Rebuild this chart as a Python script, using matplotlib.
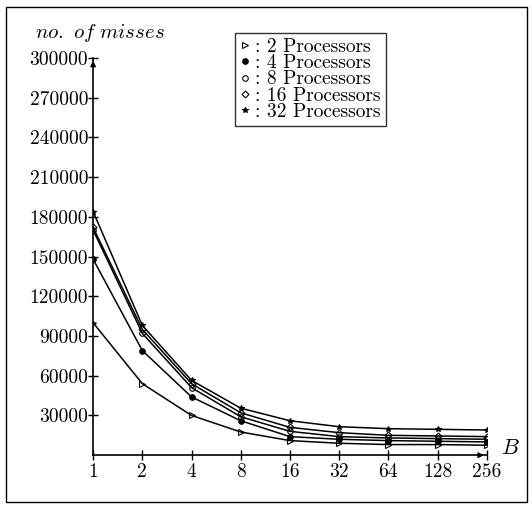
import matplotlib
matplotlib.use("Agg")
import matplotlib.pyplot as plt
from matplotlib.patches import Rectangle

plt.rcParams["font.family"] = "serif"
plt.rcParams["font.serif"] = ["cmr10"]
plt.rcParams["mathtext.fontset"] = "cm"
plt.rcParams["axes.formatter.use_mathtext"] = True

block_sizes = [1, 2, 4, 8, 16, 32, 64, 128, 256]
misses_2 = [100000, 54000, 30000, 17500, 11000, 9000, 8000, 8000, 7500]
misses_4 = [148000, 79000, 44000, 26000, 14000, 12000, 11000, 10500, 10000]
misses_8 = [170000, 92000, 51000, 29000, 18000, 14000, 13000, 12500, 12000]
misses_16 = [172000, 95000, 54000, 32000, 21000, 17000, 15000, 14500, 14000]
misses_32 = [184000, 98000, 56500, 35500, 26000, 21500, 20000, 19500, 19000]

series = [
    (misses_2, ">", "none", ": 2 Processors"),
    (misses_4, "o", "black", ": 4 Processors"),
    (misses_8, "o", "none", ": 8 Processors"),
    (misses_16, "D", "none", ": 16 Processors"),
    (misses_32, "*", "black", ": 32 Processors"),
]

y_ticks = [30000, 60000, 90000, 120000, 150000, 180000, 210000, 240000, 270000, 300000]

figure = plt.figure(figsize=(5.32, 5.08), dpi=100)
axes = figure.add_axes([0.175, 0.104, 0.74, 0.782])

positions = range(len(block_sizes))
for values, marker, face, label in series:
    axes.plot(positions, values, color="black", linewidth=1.1,
              marker=marker, markersize=4 if marker != "D" else 3.5,
              markerfacecolor=face, markeredgecolor="black",
              markeredgewidth=0.8, label=label)

axes.set_xlim(0, 8.0)
axes.set_ylim(0, 300000)
axes.set_xticks(list(positions))
axes.set_xticklabels([str(b) for b in block_sizes])
axes.set_yticks(y_ticks)
axes.set_yticklabels([str(t) for t in y_ticks])
axes.tick_params(direction="inout", length=7, width=1.0, labelsize=14)
axes.tick_params(axis="y", pad=0)
axes.tick_params(axis="x", pad=2)

for side in ("top", "right"):
    axes.spines[side].set_visible(False)
for side in ("left", "bottom"):
    axes.spines[side].set_linewidth(1.2)

axes.annotate("", xy=(1.0, 0), xytext=(0.97, 0), xycoords="axes fraction",
              arrowprops=dict(arrowstyle="-|>", color="black", lw=1.0,
                              mutation_scale=8))
axes.annotate("", xy=(0, 1.0), xytext=(0, 0.97), xycoords="axes fraction",
              arrowprops=dict(arrowstyle="-|>", color="black", lw=1.0,
                              mutation_scale=8))

axes.text(8.28, -2000, r"$B$", fontsize=16, va="bottom")
figure.text(0.066, 0.925, r"$no.\ of\ misses$", fontsize=15)

legend = axes.legend(loc="upper left", bbox_to_anchor=(0.36, 1.063),
                     frameon=True, fancybox=False, edgecolor="black",
                     fontsize=14, handlelength=0.5, handletextpad=0.3,
                     labelspacing=-0.08, borderpad=0.25, borderaxespad=0,
                     numpoints=1)
legend.get_frame().set_linewidth(1.0)
for handle in legend.get_lines():
    handle.set_linestyle("none")

figure.patches.append(Rectangle((0.012, 0.012), 0.978, 0.975, fill=False,
                                edgecolor="black", linewidth=1.0,
                                transform=figure.transFigure))

figure.savefig("out.png", dpi=100)
